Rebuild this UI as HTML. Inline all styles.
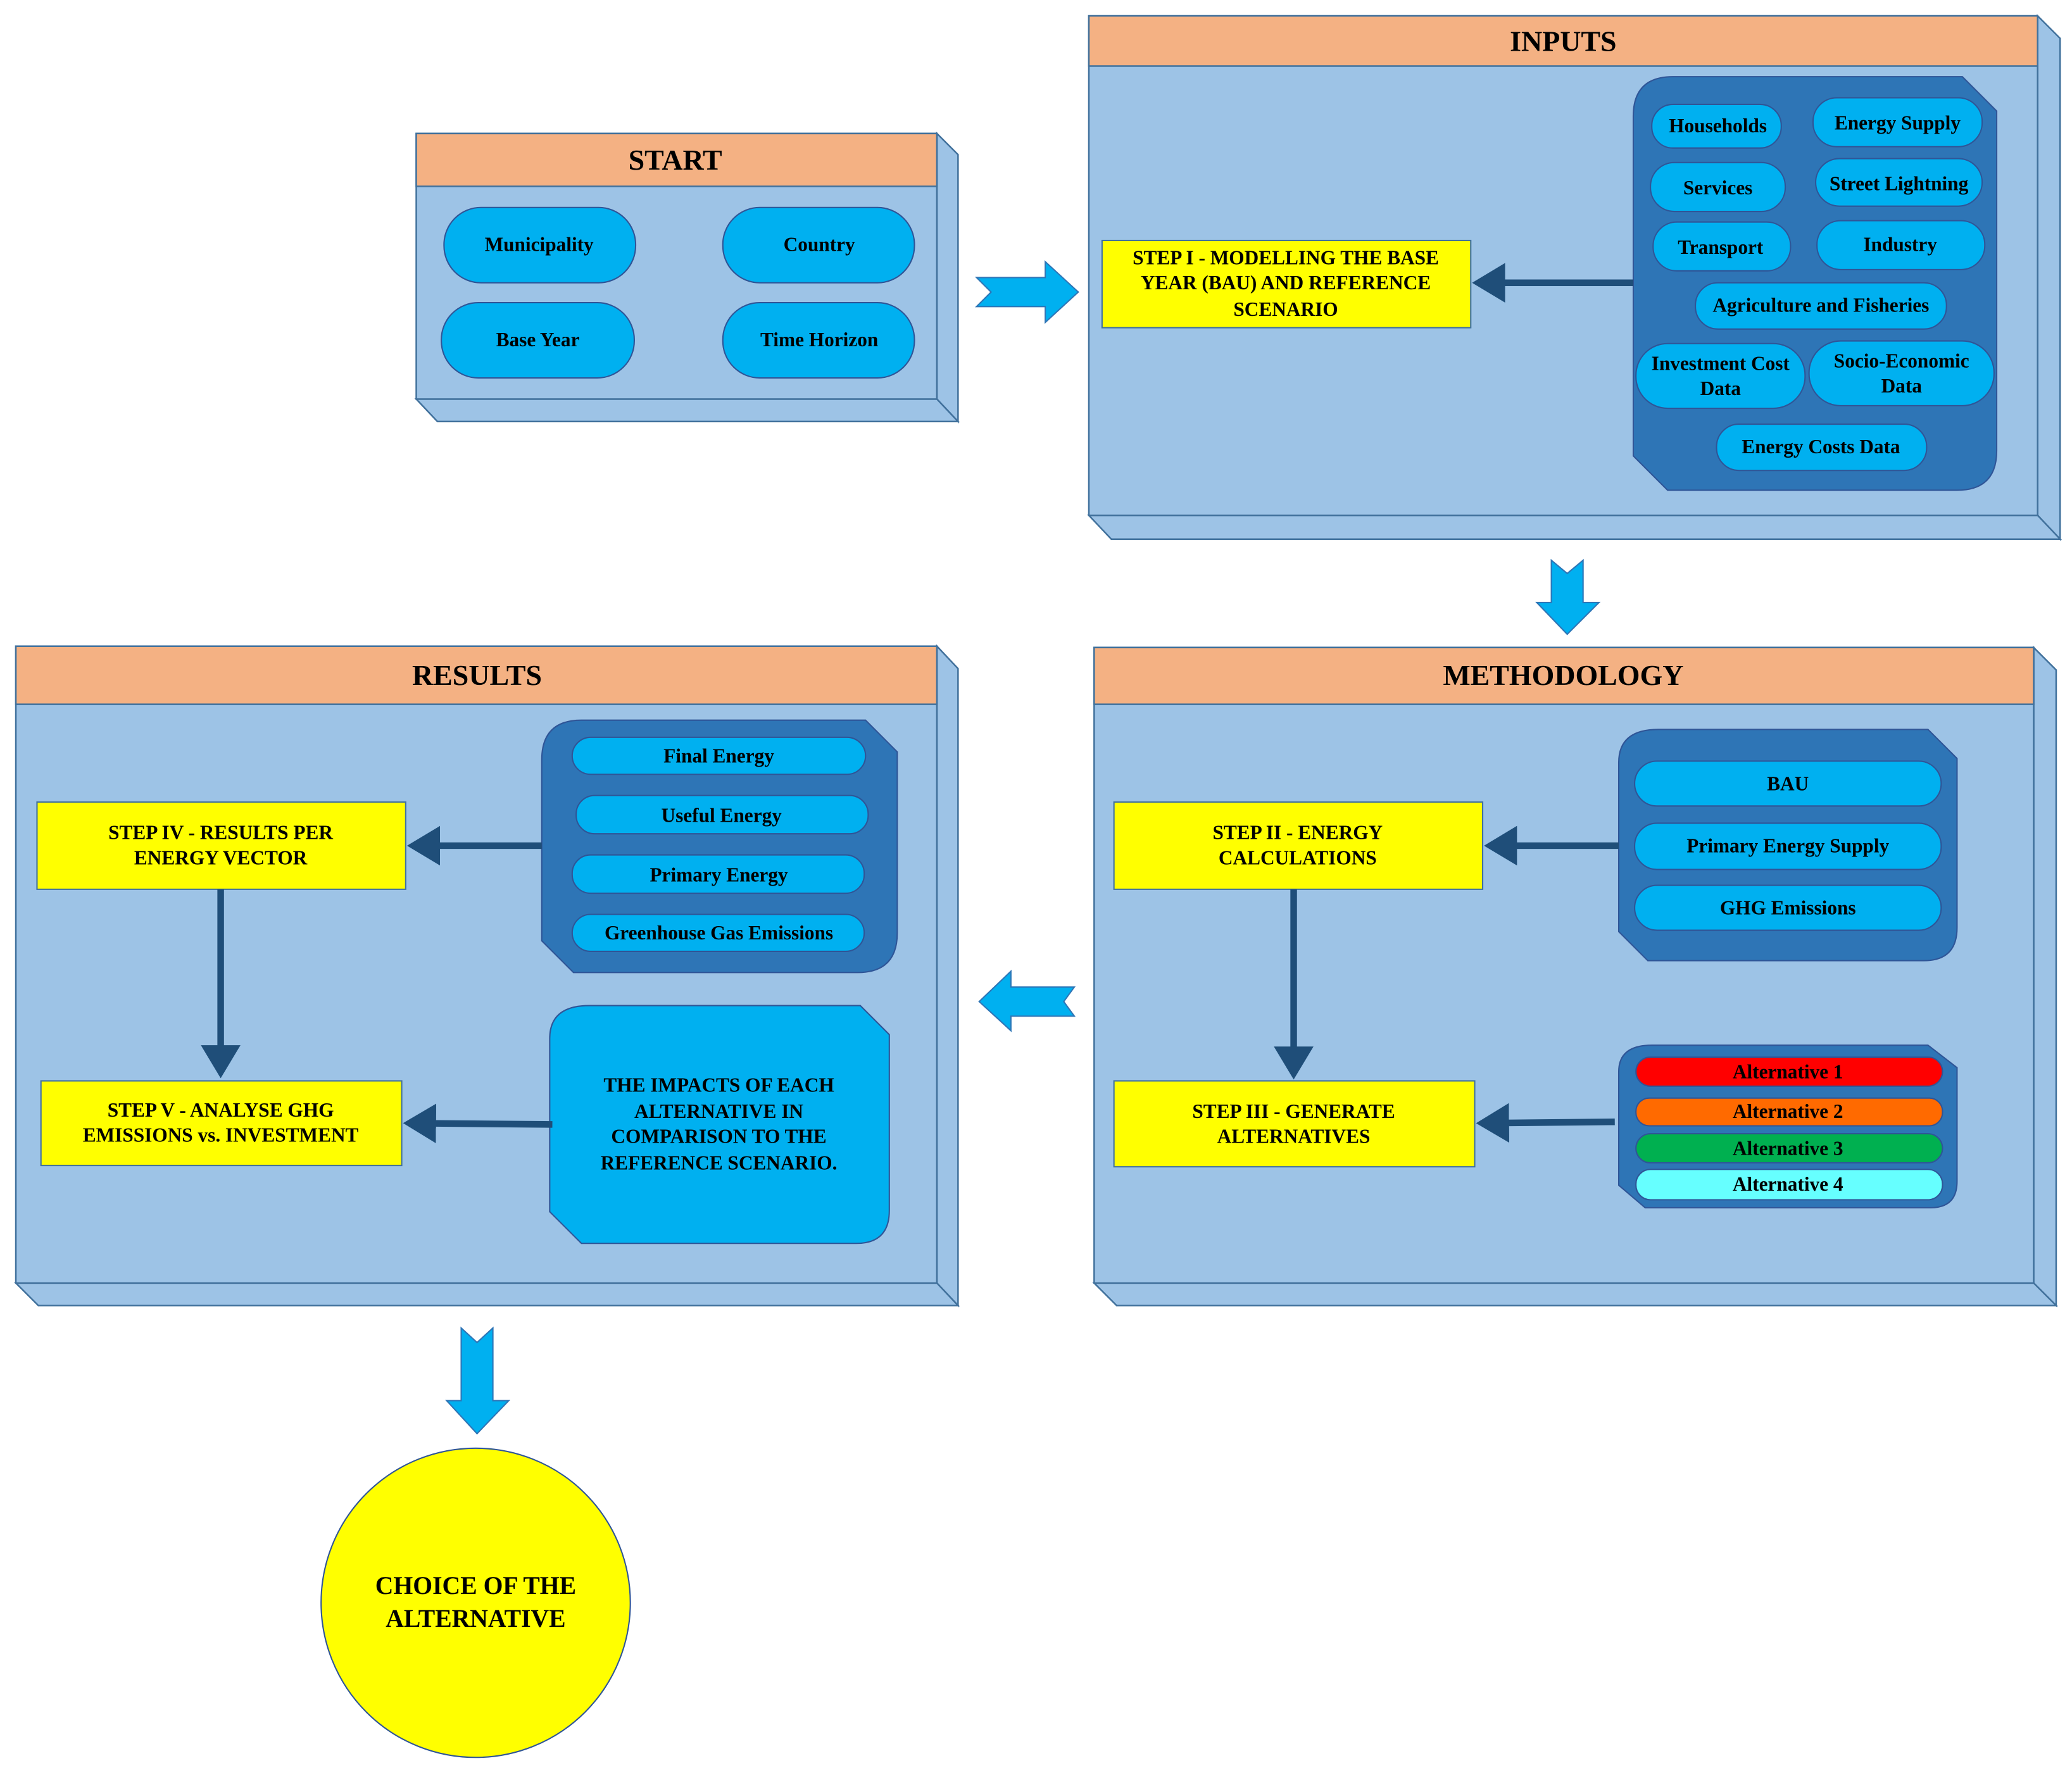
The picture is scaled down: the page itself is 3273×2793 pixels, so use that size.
<!DOCTYPE html>
<html><head><meta charset="utf-8"><style>
html,body{margin:0;padding:0;background:#fff}
svg{display:block}
text{font-family:"Liberation Serif",serif;font-weight:bold;fill:#000;text-anchor:middle;dominant-baseline:central}
.h{font-size:22px}
.p{font-size:15px}
.s{font-size:15px}
</style></head><body>
<svg width="3273" height="2793" viewBox="0 0 1568 1338" xmlns="http://www.w3.org/2000/svg">
<defs>
<marker id="ah" markerWidth="6" markerHeight="6" refX="4" refY="3" orient="auto" markerUnits="strokeWidth">
<path d="M0,0 L5,3 L0,6 z" fill="#1F4E79"/></marker>
</defs>
<g stroke="#41719C" stroke-width="1.2" fill="#9DC3E6">
<polygon points="709,101 725,117 725,319 709,302"/>
<polygon points="315,302 709,302 725,319 331,319"/>
<rect x="315" y="101" width="394" height="201"/>
<rect x="315" y="101" width="394" height="40" fill="#F4B183"/>
<polygon points="1542,12 1559,29 1559,408 1542,390"/>
<polygon points="824,390 1542,390 1559,408 841,408"/>
<rect x="824" y="12" width="718" height="378"/>
<rect x="824" y="12" width="718" height="38" fill="#F4B183"/>
<polygon points="1539,490 1556,507 1556,988 1539,971"/>
<polygon points="828,971 1539,971 1556,988 845,988"/>
<rect x="828" y="490" width="711" height="481"/>
<rect x="828" y="490" width="711" height="43" fill="#F4B183"/>
<polygon points="709,489 725,506 725,988 709,971"/>
<polygon points="12,971 709,971 725,988 29,988"/>
<rect x="12" y="489" width="697" height="482"/>
<rect x="12" y="489" width="697" height="44" fill="#F4B183"/>
</g>
<text class="h" x="511" y="121">START</text>
<text class="h" x="1183" y="31">INPUTS</text>
<text class="h" x="1183" y="511">METHODOLOGY</text>
<text class="h" x="361" y="511">RESULTS</text>

<g fill="#2E75B6" stroke="#2F5597" stroke-width="1">
<path d="M1266,58 L1485,58 L1511,84 L1511,341 Q1511,371 1481,371 L1262,371 L1236,345 L1236,88 Q1236,58 1266,58 z"/>
<path d="M1255,552 L1459,552 L1481,574 L1481,702 Q1481,727 1456,727 L1247,727 L1225,705 L1225,577 Q1225,552 1255,552 z"/>
<path d="M1250,791 L1459,791 L1481,808 L1481,894 Q1481,914 1461,914 L1245,914 L1225,897 L1225,811 Q1225,791 1250,791 z"/>
<path d="M440,545 L655,545 L679,569 L679,706 Q679,736 649,736 L434,736 L410,712 L410,575 Q410,545 440,545 z"/>
</g>
<path d="M446,761 L651,761 L673,783 L673,916 Q673,941 648,941 L440,941 L416,917 L416,786 Q416,761 446,761 z" fill="#00B0F0" stroke="#2F5597" stroke-width="1"/>

<g fill="#00B0F0" stroke="#2F5597" stroke-width="1">
<rect x="336" y="157" width="145" height="57" rx="28"/>
<rect x="547" y="157" width="145" height="57" rx="28"/>
<rect x="334" y="229" width="146" height="57" rx="28"/>
<rect x="547" y="229" width="145" height="57" rx="28"/>
<rect x="1250" y="79" width="98" height="33" rx="16"/>
<rect x="1372" y="74" width="128" height="37" rx="18"/>
<rect x="1249" y="123" width="102" height="37" rx="18"/>
<rect x="1374" y="120" width="126" height="36" rx="18"/>
<rect x="1251" y="168" width="104" height="37" rx="18"/>
<rect x="1375" y="167" width="127" height="37" rx="18"/>
<rect x="1283" y="214" width="190" height="35" rx="17"/>
<rect x="1238" y="260" width="128" height="49" rx="24"/>
<rect x="1369" y="258" width="140" height="49" rx="24"/>
<rect x="1299" y="321" width="159" height="35" rx="17"/>
<rect x="1237" y="576" width="232" height="34" rx="17"/>
<rect x="1237" y="623" width="232" height="35" rx="17"/>
<rect x="1237" y="670" width="232" height="34" rx="17"/>
<rect x="433" y="558" width="222" height="28" rx="14"/>
<rect x="436" y="602" width="221" height="29" rx="14"/>
<rect x="433" y="647" width="221" height="29" rx="14"/>
<rect x="433" y="692" width="221" height="28" rx="14"/>
</g>
<g stroke="#2F5597" stroke-width="1">
<rect x="1238" y="800" width="232" height="22" rx="11" fill="#FF0000"/>
<rect x="1238" y="831" width="232" height="21" rx="10" fill="#FF6A00"/>
<rect x="1238" y="858" width="232" height="22" rx="11" fill="#00B050"/>
<rect x="1238" y="885" width="232" height="23" rx="11" fill="#66FFFF"/>
</g>
<text class="p" x="408" y="185">Municipality</text>
<text class="p" x="620" y="185">Country</text>
<text class="p" x="407" y="257">Base Year</text>
<text class="p" x="620" y="257">Time Horizon</text>
<text class="p" x="1300" y="95">Households</text>
<text class="p" x="1436" y="93">Energy Supply</text>
<text class="p" x="1300" y="142">Services</text>
<text class="p" x="1437" y="139">Street Lightning</text>
<text class="p" x="1302" y="187">Transport</text>
<text class="p" x="1438" y="185">Industry</text>
<text class="p" x="1378" y="231">Agriculture and Fisheries</text>
<text class="p" x="1302" y="275">Investment Cost</text>
<text class="p" x="1302" y="294">Data</text>
<text class="p" x="1439" y="273">Socio-Economic</text>
<text class="p" x="1439" y="292">Data</text>
<text class="p" x="1378" y="338">Energy Costs Data</text>
<text class="p" x="1353" y="593">BAU</text>
<text class="p" x="1353" y="640">Primary Energy Supply</text>
<text class="p" x="1353" y="687">GHG Emissions</text>
<text class="p" x="1353" y="811">Alternative 1</text>
<text class="p" x="1353" y="841">Alternative 2</text>
<text class="p" x="1353" y="869">Alternative 3</text>
<text class="p" x="1353" y="896">Alternative 4</text>
<text class="p" x="544" y="572">Final Energy</text>
<text class="p" x="546" y="617">Useful Energy</text>
<text class="p" x="544" y="662">Primary Energy</text>
<text class="p" x="544" y="706">Greenhouse Gas Emissions</text>

<g fill="#FFFF00" stroke="#41719C" stroke-width="1">
<rect x="834" y="182" width="279" height="66"/>
<rect x="843" y="607" width="279" height="66"/>
<rect x="843" y="818" width="273" height="65"/>
<rect x="28" y="607" width="279" height="66"/>
<rect x="31" y="818" width="273" height="64"/>
<circle cx="360" cy="1213" r="117" stroke="#2F5597"/>
</g>
<text class="s" x="973" y="195">STEP I - MODELLING THE BASE</text>
<text class="s" x="973" y="214">YEAR (BAU) AND REFERENCE</text>
<text class="s" x="973" y="234">SCENARIO</text>
<text class="s" x="982" y="630">STEP II - ENERGY</text>
<text class="s" x="982" y="649">CALCULATIONS</text>
<text class="s" x="979" y="841">STEP III - GENERATE</text>
<text class="s" x="979" y="860">ALTERNATIVES</text>
<text class="s" x="167" y="630">STEP IV - RESULTS PER</text>
<text class="s" x="167" y="649">ENERGY VECTOR</text>
<text class="s" x="167" y="840">STEP V - ANALYSE GHG</text>
<text class="s" x="167" y="859">EMISSIONS vs. INVESTMENT</text>
<text class="s" x="544" y="821">THE IMPACTS OF EACH</text>
<text class="s" x="544" y="841">ALTERNATIVE IN</text>
<text class="s" x="544" y="860">COMPARISON TO THE</text>
<text class="s" x="544" y="880">REFERENCE SCENARIO.</text>
<text style="font-size:19px" x="360" y="1200">CHOICE OF THE</text>
<text style="font-size:19px" x="360" y="1225">ALTERNATIVE</text>

<g stroke="#1F4E79" stroke-width="5" fill="none" marker-end="url(#ah)">
<line x1="1236" y1="214" x2="1119" y2="214"/>
<line x1="1225" y1="640" x2="1128" y2="640"/>
<line x1="1222" y1="849" x2="1122" y2="850"/>
<line x1="410" y1="640" x2="313" y2="640"/>
<line x1="418" y1="851" x2="310" y2="850"/>
<line x1="979" y1="673" x2="979" y2="812"/>
<line x1="167" y1="673" x2="167" y2="811"/>
</g>

<g fill="#00B0F0" stroke="#2E75B6" stroke-width="1">
<polygon points="739,210 791,210 791,198 816,221 791,244 791,232 739,232 750,221"/>
<polygon points="1174,424 1186,434 1198,424 1198,456 1210,456 1186,480 1163,456 1174,456"/>
<polygon points="741,758 765,735 765,747 813,747 805,758 813,769 765,769 765,780"/>
<polygon points="349,1005 361,1016 373,1005 373,1060 385,1060 361,1085 338,1060 349,1060"/>
</g>
</svg>
</body></html>
